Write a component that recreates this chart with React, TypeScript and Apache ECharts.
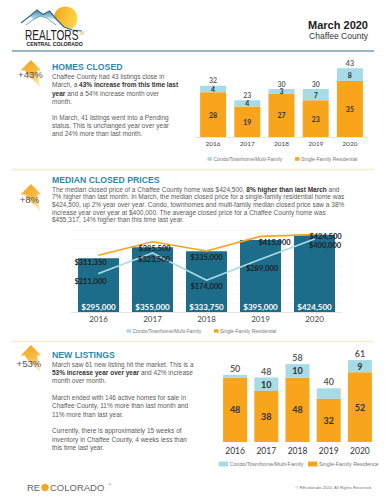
import React, { useEffect, useRef } from 'react';
import * as echarts from 'echarts';

const years = ['2016', '2017', '2018', '2019', '2020'];

const closedSingleFamily = [28, 19, 27, 23, 35];
const closedCondo = [4, 4, 3, 7, 8];
const closedTotal = [32, 23, 30, 30, 43];

const medianAll = [295000, 355000, 333750, 395000, 424500];
const medianSingleFamily = [311350, 385500, 335000, 415000, 424500];
const medianCondo = [211000, 323500, 174000, 289000, 400000];

const listingsSingleFamily = [48, 38, 48, 32, 52];
const listingsCondo = [2, 10, 10, 8, 9];
const listingsTotal = [50, 48, 58, 40, 61];

// label styling (not data)
const listingsCondoLabelShown = [false, true, true, false, true];
const sfrLabelOffsets = [[-8, 1], [2, 0], [0, 0], [14, 0], [11, -5]];
const condoLabelOffsets = [[-8, 1], [1.5, 0], [0, 0], [1.5, 3], [10.5, 0]];

const SANS = 'Liberation Sans, Arial, sans-serif';
const CF = 'Lato, Open Sans, sans-serif';
const GRAY = '#5b5b5b';
const TITLE = '#2f87aa';
const ORANGE = '#f8a51c';
const LIGHTBLUE = '#a7dbe8';
const DARKTEAL = '#1d6d8a';
const CYANLINE = '#a9dde6';

const money = (v: number) => '$' + v.toLocaleString('en-US');

function txt(x: number, y: number, text: string, fontSize: number, fill: string, style: any = {}, el: any = {}) {
  return {
    type: 'text', x, y, silent: true, ...el,
    style: { text, fontSize, fontFamily: SANS, fill, align: 'left', verticalAlign: 'middle', ...style },
  };
}

function para(x: number, y0: number, step: number, lines: string[]) {
  const out: any[] = [];
  lines.forEach((l, i) => {
    if (!l) return;
    out.push(txt(x, y0 + i * step, l, 6.5, GRAY, {
      rich: { b: { fontWeight: 'bold', fill: '#333', fontSize: 6.5, fontFamily: SANS } },
    }));
  });
  return out;
}

function arrow(tx: number, ty: number) {
  const rel = [[0, 0], [10, 10.5], [6, 10.5], [9, 27], [-4, 14], [-6, 10.5], [-10.5, 10.5]];
  return {
    type: 'polygon', silent: true,
    shape: { points: rel.map(([a, b]) => [tx + a, ty + b]) },
    style: {
      fill: { type: 'linear', x: 0, y: 0, x2: 0.3, y2: 1, colorStops: [
        { offset: 0, color: '#f6a01a' }, { offset: 0.6, color: '#f9bb45' }, { offset: 1, color: '#fde3a6' }] },
    },
  };
}

function legendItem(x: number, y: number, w: number, h: number, color: string, label: string, fs: number) {
  return [
    { type: 'rect', silent: true, shape: { x, y: y - h / 2, width: w, height: h }, style: { fill: color } },
    txt(x + w + 1.5, y, label, fs, '#777'),
  ];
}

function hline(y: number, x1: number, x2: number, stroke: any, lw: number) {
  return { type: 'line', silent: true, shape: { x1, y1: y, x2, y2: y }, style: { stroke, lineWidth: lw } };
}

function buildGraphic() {
  const g: any[] = [];
  // Logo
  g.push({ type: 'circle', silent: true, shape: { cx: 65.5, cy: 18.5, r: 12 },
    style: { fill: { type: 'linear', x: 0, y: 0, x2: 1, y2: 0.3, colorStops: [
      { offset: 0, color: '#f3a11e' }, { offset: 1, color: '#fdd646' }] } } });
  const ridge = [[21, 23], [30, 16], [37, 10], [43, 14.5], [49.5, 11], [57, 20], [64, 27], [72, 30], [82, 31]];
  g.push({ type: 'polygon', silent: true, shape: { points: [...ridge, [82, 32], [21, 32]] }, style: { fill: '#fff' } });
  g.push({ type: 'polygon', silent: true, shape: { points: [[30, 16], [37, 10], [43, 14.5], [49.5, 11], [57, 20], [52, 19], [46, 17], [40, 16], [34, 20]] },
    style: { fill: { type: 'linear', x: 0, y: 0, x2: 0, y2: 1, colorStops: [{ offset: 0, color: '#3d88a8' }, { offset: 1, color: '#d6eaf1' }] } } });
  g.push({ type: 'polyline', silent: true, shape: { points: ridge }, style: { stroke: '#2a6f8f', lineWidth: 1.2, fill: null } });
  g.push({ type: 'polyline', silent: true, shape: { points: [[26, 25], [34, 19], [40, 16], [47, 18], [56, 25]] }, style: { stroke: '#3f8fb0', lineWidth: 0.8, fill: null } });
  g.push(txt(25, 35.5, 'REALTORS', 14, '#222', {}, { scaleX: 0.72 }));
  g.push(txt(80, 32.5, 'of', 5, '#e8a23a', { fontStyle: 'italic' }));
  g.push(txt(26.5, 44, 'CENTRAL COLORADO', 5.2, '#222', { fontWeight: 'bold' }));

  // Header
  g.push(txt(368, 24.5, 'March 2020', 11, '#222', { align: 'right', fontWeight: 'bold' }));
  g.push(txt(368, 36, 'Chaffee County', 8.5, '#333', { align: 'right' }));
  g.push(hline(51, 12, 374, '#2d6f87', 1));

  // Section 1
  g.push(arrow(31, 60));
  g.push(txt(30.5, 74, '+43%', 9.6, '#555', { align: 'center' }));
  g.push(txt(52, 66.5, 'HOMES CLOSED', 8.7, TITLE, { fontWeight: 'bold' }));
  g.push(...para(52, 76.8, 8.1, [
    'Chaffee County had 43 listings close in',
    'March, a {b|43% increase from this time last}',
    '{b|year} and a 54% increase month over',
    'month.',
    '',
    'In March, 41 listings went into a Pending',
    'status. This is unchanged year over year',
    'and 24% more than last month.',
  ]));
  g.push(...legendItem(207.5, 159, 4.5, 3.5, LIGHTBLUE, 'Condo/Townhome/Multi-Family', 5));
  g.push(...legendItem(295, 159, 4.5, 3.5, ORANGE, 'Single-Family Residential', 5));
  g.push(hline(169.5, 12, 374, '#f8ebcf', 1.5));

  // Section 2
  g.push(arrow(31, 184));
  g.push(txt(29.5, 199, '+8%', 9.6, '#555', { align: 'center' }));
  g.push(txt(52, 180, 'MEDIAN CLOSED PRICES', 8.7, TITLE, { fontWeight: 'bold' }));
  g.push(...para(52, 189, 7.7, [
    'The median closed price of a Chaffee County home was $424,500, {b|8% higher than last March} and',
    '7% higher than last month. In March, the median closed price for a single-family residential home was',
    '$424,500, up 2% year over year. Condo, townhomes and multi-family median closed price saw a 38%',
    'increase year over year at $400,000. The average closed price for a Chaffee County home was',
    '$455,317, 14% higher than this time last year.',
  ]));
  g.push(...legendItem(126.5, 331, 4.5, 3.5, LIGHTBLUE, 'Condo/Townhome/Multi-Family', 5));
  g.push(...legendItem(214, 331, 4.5, 3.5, ORANGE, 'Single-Family Residential', 5));
  g.push(hline(341.5, 12, 374, '#f8ebcf', 1.5));

  // Section 3
  g.push(arrow(31, 345));
  g.push(txt(29, 363.5, '+53%', 9.6, '#555', { align: 'center' }));
  g.push(txt(52, 354.5, 'NEW LISTINGS', 8.7, TITLE, { fontWeight: 'bold' }));
  g.push(...para(52, 364.3, 8.3, [
    'March saw 61 new listing hit the market. This is a',
    '{b|53% increase year over year} and 42% increase',
    'month over month.',
    '',
    'March ended with 146 active homes for sale in',
    'Chaffee County, 11% more than last month and',
    '11% more than last year.',
    '',
    'Currently, there is approximately 15 weeks of',
    'inventory in Chaffee County, 4 weeks less than',
    'this time last year.',
  ]));
  g.push(...legendItem(218.5, 464, 9.5, 5, LIGHTBLUE, 'Condo/Townhome/Multi-Family', 5.4));
  g.push(...legendItem(308, 464, 9.5, 5, ORANGE, 'Single-Family Residence', 5.4));

  // Footer
  g.push(hline(472, 12, 374, { type: 'linear', x: 0, y: 0, x2: 1, y2: 0, colorStops: [
    { offset: 0, color: '#4d8496' }, { offset: 0.35, color: '#9db9c2' }, { offset: 0.45, color: '#f6d9a4' }, { offset: 1, color: '#f8e2b8' }] }, 1));
  g.push(txt(27, 487.5, 'RE', 9.5, '#666'));
  g.push({ type: 'circle', silent: true, shape: { cx: 45, cy: 487.5, r: 3.8 }, style: { fill: '#f5a623' } });
  g.push(txt(50, 487.5, 'COLORADO', 9.5, '#666'));
  g.push(txt(108.5, 484.5, '®', 3.5, '#666'));
  g.push(txt(372, 487.5, '© REcolorado 2020. All Rights Reserved.', 4.2, '#777', { align: 'right' }));
  return g;
}

function buildOption() {
  const catAxis = (gridIndex: number, fontSize: number, margin: number, showLine: boolean, color: string) => ({
    type: 'category', gridIndex, data: years,
    axisTick: { show: false },
    axisLine: { show: showLine, lineStyle: { color: '#e3e3e3' } },
    axisLabel: { fontSize, margin, color, fontFamily: CF },
  });
  const barLabel = (fs: number) => ({
    show: true, position: 'inside', fontSize: fs, fontWeight: 'bold', color: '#333', fontFamily: CF,
  });
  return {
    animation: false,
    backgroundColor: '#fff',
    grid: [
      { left: 196, top: 57, width: 171, height: 80 },
      { left: 71.5, top: 230, width: 270, height: 82 },
      { left: 219.5, top: 348, width: 156, height: 94 },
    ],
    xAxis: [
      catAxis(0, 6.5, 3, true, '#444'),
      catAxis(1, 8, 3, true, '#444'),
      catAxis(2, 8.5, 4.5, false, '#333'),
    ],
    yAxis: [
      { type: 'value', gridIndex: 0, min: 0, max: 50, show: false },
      { type: 'value', gridIndex: 1, min: 0, max: 450000, interval: 50000,
        axisLabel: { show: false }, axisLine: { show: false }, axisTick: { show: false },
        splitLine: { lineStyle: { color: '#f3f3f3', width: 0.6 } } },
      { type: 'value', gridIndex: 2, min: 0, max: 70, show: false },
    ],
    series: [
      // Homes closed
      { type: 'bar', name: 'Single-Family Residential', xAxisIndex: 0, yAxisIndex: 0, stack: 'closed',
        barWidth: '76%', data: closedSingleFamily, itemStyle: { color: ORANGE }, label: barLabel(7) },
      { type: 'bar', name: 'Condo/Townhome/Multi-Family', xAxisIndex: 0, yAxisIndex: 0, stack: 'closed',
        barWidth: '76%', data: closedCondo, itemStyle: { color: LIGHTBLUE }, label: barLabel(7) },
      { type: 'scatter', name: 'Closed total', xAxisIndex: 0, yAxisIndex: 0, data: closedTotal,
        symbolSize: 1, itemStyle: { color: 'rgba(0,0,0,0)' },
        label: { show: true, position: 'top', distance: 1.5, fontSize: 7, fontWeight: 'bold', color: '#333', fontFamily: CF } },
      // Median prices
      { type: 'bar', name: 'Median Closed Price', xAxisIndex: 1, yAxisIndex: 1, barWidth: '76%',
        data: medianAll, itemStyle: { color: DARKTEAL },
        label: { show: true, position: 'insideBottom', distance: 1, fontSize: 8, fontWeight: 'bold', color: '#fff', fontFamily: CF,
          formatter: (p: any) => money(p.value) } },
      { type: 'line', name: 'Single-Family Residential', xAxisIndex: 1, yAxisIndex: 1, z: 3,
        data: medianSingleFamily.map((v, i) => ({ value: v, label: { offset: sfrLabelOffsets[i] } })),
        symbol: 'circle', symbolSize: 1, itemStyle: { color: ORANGE }, lineStyle: { color: ORANGE, width: 1.6 },
        label: { show: true, position: 'bottom', distance: 2, fontSize: 7.5, fontWeight: 'bold', color: '#1e1e1e', fontFamily: CF,
          formatter: (p: any) => money(p.value) } },
      { type: 'line', name: 'Condo/Townhome/Multi-Family', xAxisIndex: 1, yAxisIndex: 1, z: 3,
        data: medianCondo.map((v, i) => ({ value: v, label: { offset: condoLabelOffsets[i] } })),
        symbol: 'circle', symbolSize: 1, itemStyle: { color: CYANLINE }, lineStyle: { color: CYANLINE, width: 1.6 },
        label: { show: true, position: 'bottom', distance: 2, fontSize: 7.5, fontWeight: 'bold', color: '#1e1e1e', fontFamily: CF,
          formatter: (p: any) => money(p.value) } },
      // New listings
      { type: 'bar', name: 'Single-Family Residence', xAxisIndex: 2, yAxisIndex: 2, stack: 'listings',
        barWidth: '77%', data: listingsSingleFamily, itemStyle: { color: ORANGE }, label: barLabel(9) },
      { type: 'bar', name: 'Condo/Townhome/Multi-Family', xAxisIndex: 2, yAxisIndex: 2, stack: 'listings',
        barWidth: '77%', itemStyle: { color: LIGHTBLUE }, label: barLabel(9),
        data: listingsCondo.map((v, i) => ({ value: v, label: { show: listingsCondoLabelShown[i] } })) },
      { type: 'scatter', name: 'Listings total', xAxisIndex: 2, yAxisIndex: 2, data: listingsTotal,
        symbolSize: 1, itemStyle: { color: 'rgba(0,0,0,0)' },
        label: { show: true, position: 'top', distance: 1.5, fontSize: 9, fontWeight: 'bold', color: '#333', fontFamily: CF } },
    ],
    graphic: buildGraphic(),
  };
}

export default function App() {
  const ref = useRef<HTMLDivElement>(null);
  useEffect(() => {
    if (!ref.current) return;
    const chart = echarts.init(ref.current, undefined, { renderer: 'svg' });
    chart.setOption(buildOption() as any);
    return () => chart.dispose();
  }, []);
  return (
    <div
      ref={ref}
      style={{ position: 'absolute', left: 0, top: 0, width: 386, height: 500, background: '#fff' }}
    />
  );
}
